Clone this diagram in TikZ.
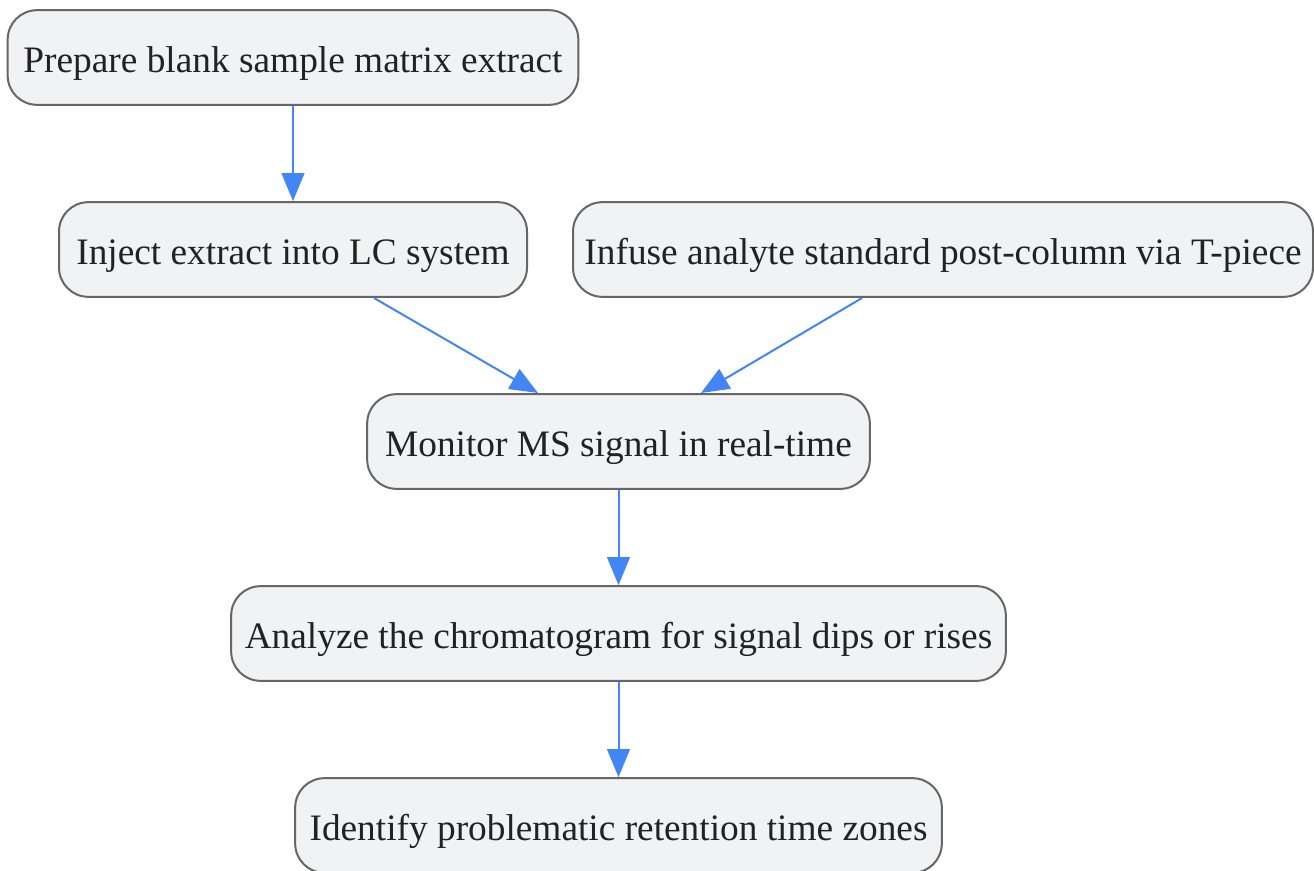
\documentclass[tikz,border=0pt]{standalone}
\usepackage{fontspec}
\setmainfont{Liberation Serif}
\usetikzlibrary{arrows.meta}
\definecolor{boxfill}{RGB}{241,242,244}
\definecolor{boxline}{RGB}{102,102,102}
\definecolor{arrowblue}{RGB}{66,133,244}
\definecolor{txt}{RGB}{34,34,34}
\tikzset{
  procbox/.style={draw=boxline, fill=boxfill, line width=1.5pt, rounded corners=22pt,
    minimum height=71pt, inner sep=0pt, text=txt, text height=28pt, text depth=6pt,
    font=\fontsize{28}{33}\selectfont},
  flow/.style={draw=arrowblue, line width=1.5pt, -{Triangle[length=21pt,width=17pt]}}
}
\begin{document}
\begin{tikzpicture}[x=0.75pt,y=-0.75pt]
\useasboundingbox (0,0) rectangle (1314,871);
\node[procbox, minimum width=428pt] (prep) at (293,57.5) {Prepare blank sample matrix extract};
\node[procbox, minimum width=351pt] (inj) at (293,249.5) {Inject extract into LC system};
\node[procbox, minimum width=555pt] (inf) at (943,249.5) {Infuse analyte standard post-column via T-piece};
\node[procbox, minimum width=377pt] (mon) at (618.5,441.5) {Monitor MS signal in real-time};
\node[procbox, minimum width=581pt] (ana) at (618.5,633.5) {Analyze the chromatogram for signal dips or rises};
\node[procbox, minimum width=485pt] (idf) at (618.5,825.5) {Identify problematic retention time zones};
\coordinate (injout) at (374,298);
\coordinate (infout) at (862,298);
\coordinate (monin1) at (538,393);
\coordinate (monin2) at (701,393);
\draw[flow] (prep.south) -- (inj.north);
\draw[flow] (injout) -- (monin1);
\draw[flow] (infout) -- (monin2);
\draw[flow] (mon.south) -- (ana.north);
\draw[flow] (ana.south) -- (idf.north);
\end{tikzpicture}
\end{document}
